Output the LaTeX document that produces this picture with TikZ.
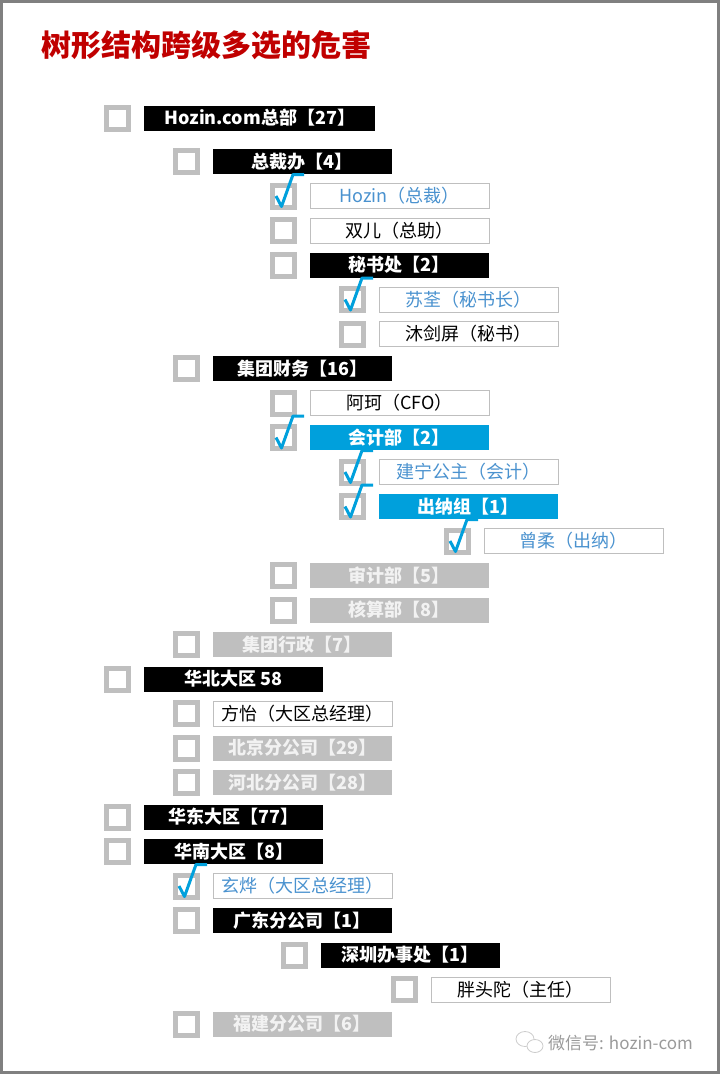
\documentclass[tikz,border=0pt]{standalone}
\usepackage{fontspec}
\setmainfont{Noto Sans CJK SC}
\usetikzlibrary{positioning}
\definecolor{framegray}{HTML}{808080}
\definecolor{boxgray}{HTML}{BFBFBF}
\definecolor{titlered}{HTML}{C00000}
\definecolor{selblue}{HTML}{00A0DC}
\definecolor{txtblue}{HTML}{4A92CF}
\definecolor{markgray}{HTML}{9A9A9A}

\begin{document}
\begin{tikzpicture}[
x=1pt, y=-1pt,
node distance=13pt,
chk/.style={draw=boxgray, line width=5pt, fill=white, minimum size=22pt, inner sep=0pt},
lbl/.style={minimum width=179pt, minimum height=25pt, inner sep=0pt, text=white, font=\fontsize{18}{20}\selectfont\bfseries},
blk/.style={lbl, fill=black},
sel/.style={lbl, fill=selblue},
greyed/.style={lbl, fill=boxgray, text=white!95!black},
plain/.style={lbl, draw=boxgray, line width=0.8pt, fill=white, text=black, font=\fontsize{18}{20}\selectfont},
picked/.style={plain, text=txtblue},
tickmark/.style={draw=selblue, line width=3pt, line join=round}
]
\useasboundingbox (0,0) rectangle (720,1074);
\draw[framegray, line width=3pt] (1.5,1.5) rectangle (718.5,1072.5);

\node[anchor=west, text=titlered, font=\fontsize{30}{32}\selectfont\bfseries, inner sep=0pt] (title) at (41,45) {树形结构跨级多选的危害};

% head office
\node[chk] (c1) at (117.5,118) {};
\node[blk, right=of c1, minimum width=231pt] (n1) {Hozin.com总部【27】};

\node[chk] (c2) at (186,161.5) {};
\node[blk, right=of c2] (n2) {总裁办【4】};
\node[chk] (c3) at (283,196) {};
\node[picked, right=of c3] (n3) {Hozin（总裁）};
\node[chk] (c4) at (283,230.5) {};
\node[plain, right=of c4] (n4) {双儿（总助）};
\node[chk] (c5) at (283,265) {};
\node[blk, right=of c5] (n5) {秘书处【2】};
\node[chk] (c6) at (352,299.5) {};
\node[picked, right=of c6] (n6) {苏荃（秘书长）};
\node[chk] (c7) at (352,334) {};
\node[plain, right=of c7] (n7) {沐剑屏（秘书）};

\node[chk] (c8) at (186,368.5) {};
\node[blk, right=of c8] (n8) {集团财务【16】};
\node[chk] (c9) at (283,403) {};
\node[plain, right=of c9] (n9) {阿珂（CFO）};
\node[chk] (c10) at (283,437.5) {};
\node[sel, right=of c10] (n10) {会计部【2】};
\node[chk] (c11) at (352,472) {};
\node[picked, right=of c11] (n11) {建宁公主（会计）};
\node[chk] (c12) at (352,506.5) {};
\node[sel, right=of c12] (n12) {出纳组【1】};
\node[chk] (c13) at (457,541) {};
\node[picked, right=of c13] (n13) {曾柔（出纳）};
\node[chk] (c14) at (283,575.5) {};
\node[greyed, right=of c14] (n14) {审计部【5】};
\node[chk] (c15) at (283,610) {};
\node[greyed, right=of c15] (n15) {核算部【8】};
\node[chk] (c16) at (186,644.5) {};
\node[greyed, right=of c16] (n16) {集团行政【7】};

% regions
\node[chk] (c17) at (117.5,679) {};
\node[blk, right=of c17] (n17) {华北大区 58};
\node[chk] (c18) at (186,713.5) {};
\node[plain, right=of c18] (n18) {方怡（大区总经理）};
\node[chk] (c19) at (186,748) {};
\node[greyed, right=of c19] (n19) {北京分公司【29】};
\node[chk] (c20) at (186,782.5) {};
\node[greyed, right=of c20] (n20) {河北分公司【28】};

\node[chk] (c21) at (117.5,817) {};
\node[blk, right=of c21] (n21) {华东大区【77】};
\node[chk] (c22) at (117.5,851.5) {};
\node[blk, right=of c22] (n22) {华南大区【8】};
\node[chk] (c23) at (186,886) {};
\node[picked, right=of c23] (n23) {玄烨（大区总经理）};
\node[chk] (c24) at (186,920.5) {};
\node[blk, right=of c24] (n24) {广东分公司【1】};
\node[chk] (c25) at (294,955) {};
\node[blk, right=of c25] (n25) {深圳办事处【1】};
\node[chk] (c26) at (404,989.5) {};
\node[plain, right=of c26] (n26) {胖头陀（主任）};
\node[chk] (c27) at (186,1024) {};
\node[greyed, right=of c27] (n27) {福建分公司【6】};

% ticks
\foreach \c in {c3,c6,c10,c11,c12,c13,c23}
  \draw[tickmark] (\c.center) ++(-7,0) -- ++(5.5,10.5) -- ++(11.5,-32) -- ++(11,0);

% watermark
\draw[boxgray!80, line width=0.8pt] (525,1039) ellipse [x radius=9, y radius=7.5];
\draw[boxgray!80, line width=0.8pt, fill=white] (535,1046) ellipse [x radius=8, y radius=6.5];
\node[anchor=west, text=markgray, font=\fontsize{17}{19}\selectfont, inner sep=0pt] (mark) at (548,1043) {微信号: hozin-com};
\end{tikzpicture}
\end{document}
